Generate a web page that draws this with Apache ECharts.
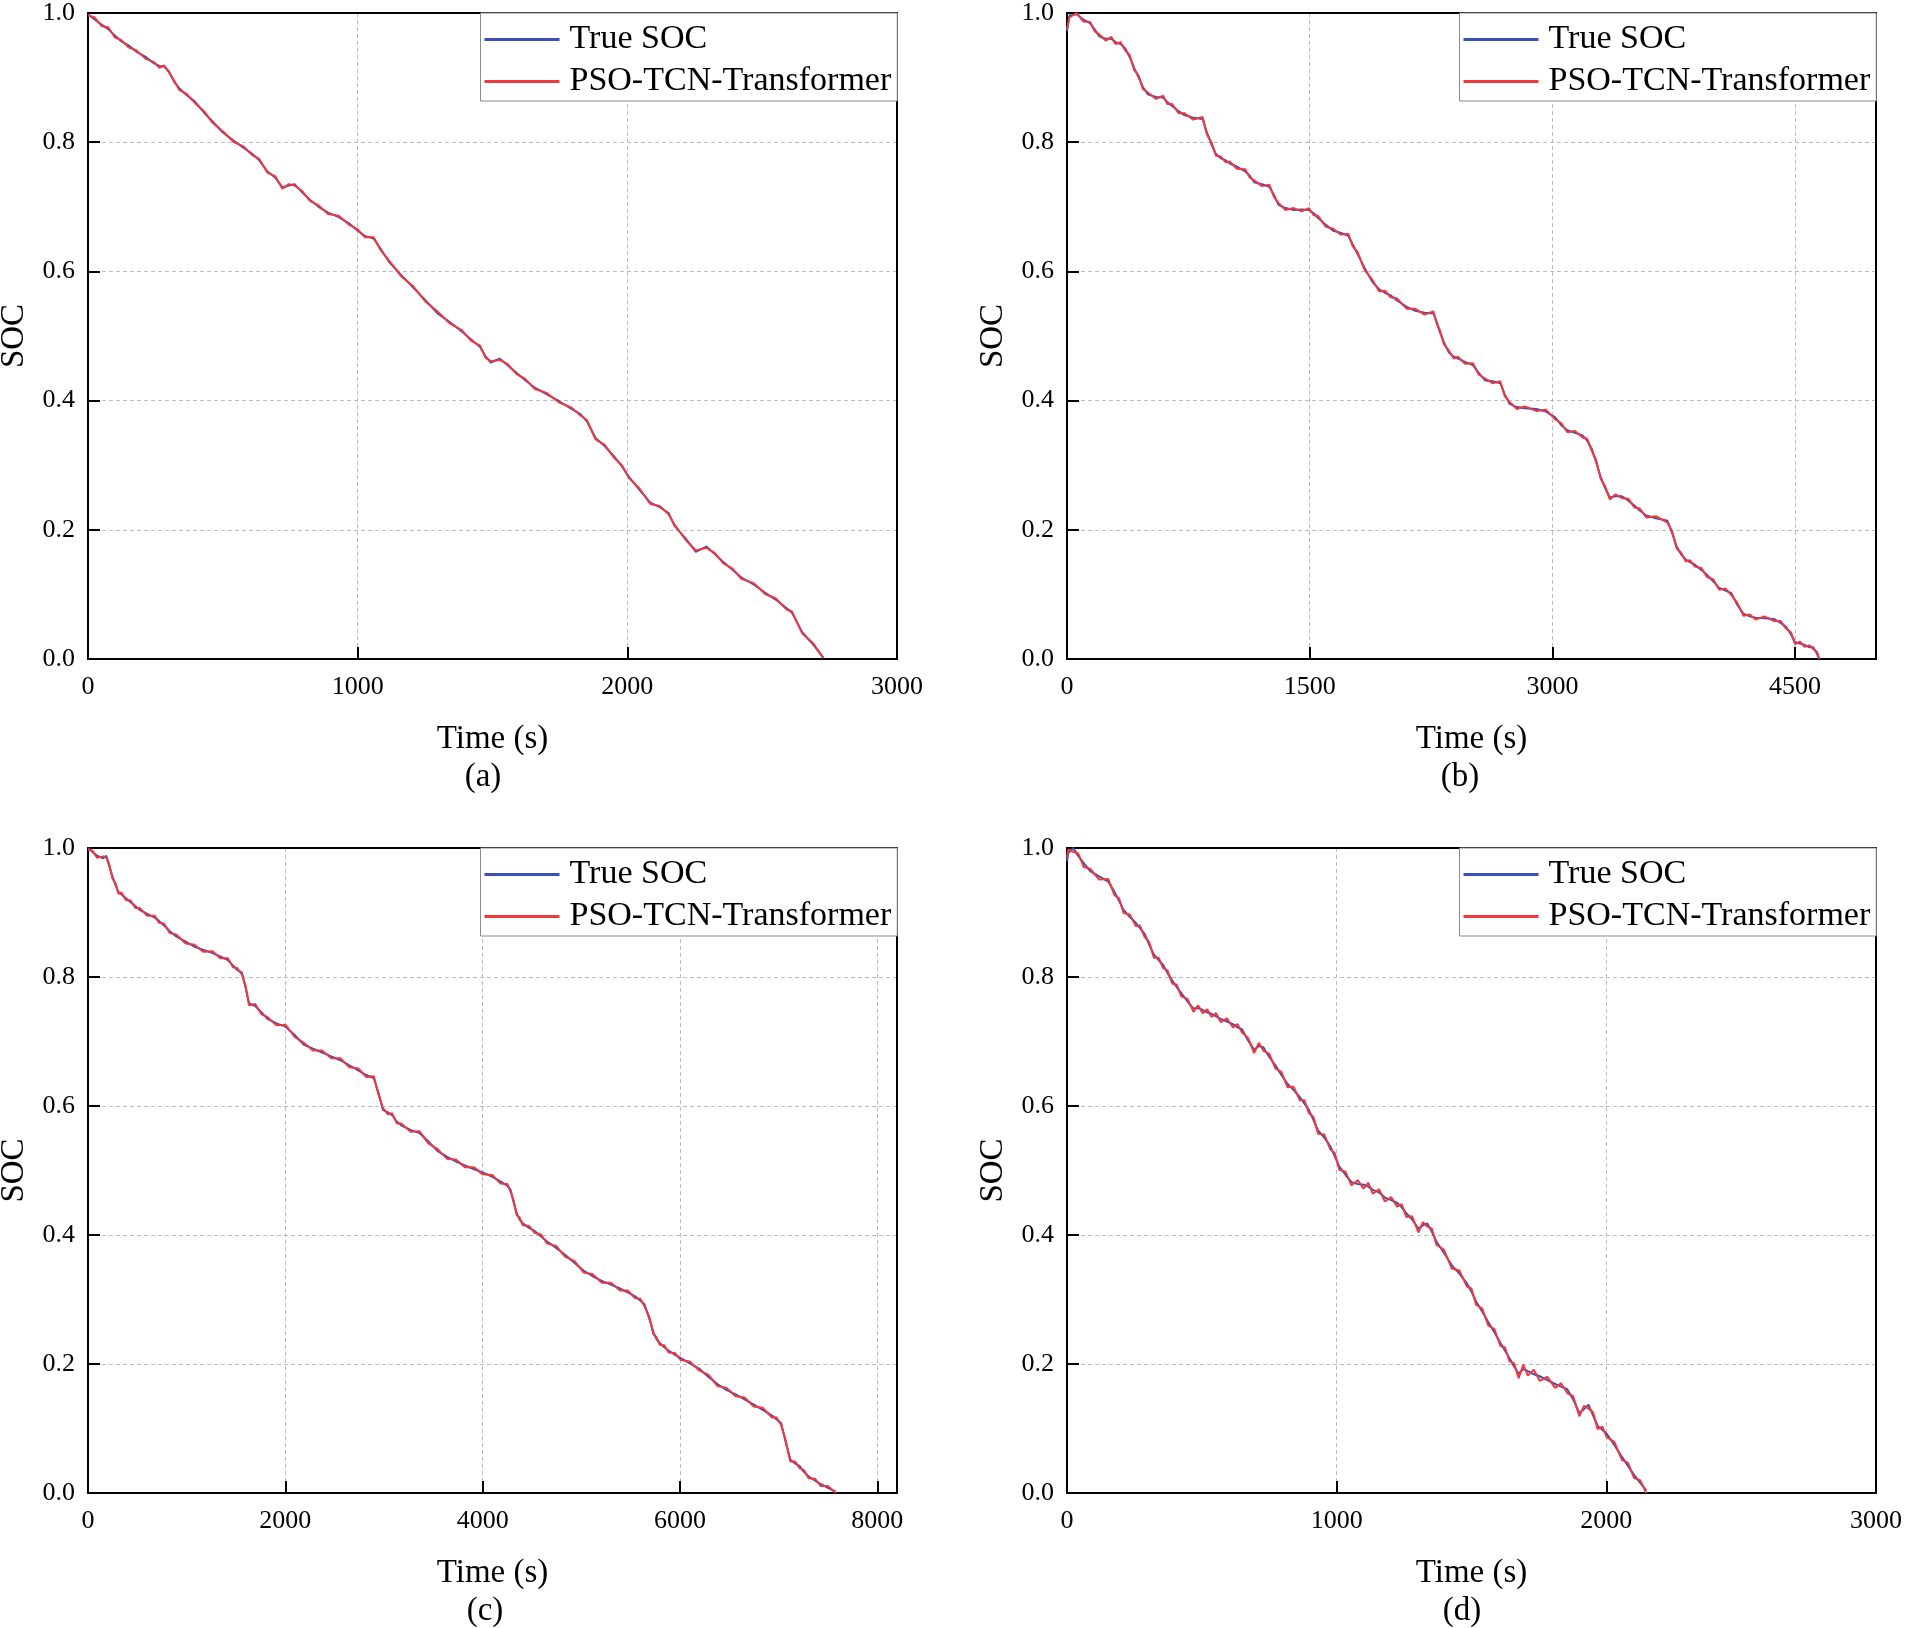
<!DOCTYPE html>
<html>
<head>
<meta charset="utf-8">
<script src="https://cdn.jsdelivr.net/npm/echarts@6/dist/echarts.min.js"></script>
<style>
html,body{margin:0;padding:0;background:#fff;}
#chart{width:1906px;height:1628px;}
</style>
</head>
<body>
<div id="chart"></div>
<script>
// ---------------- DATA ----------------
const seriesNames = ['True SOC', 'PSO-TCN-Transformer'];
const panelLabels = ['(a)', '(b)', '(c)', '(d)'];
const xMax = [3000, 5000, 8200, 3000];
const xInterval = [1000, 1500, 2000, 1000];
const yTicks = [0, 0.2, 0.4, 0.6, 0.8, 1.0];

// Panel (a)
const tA = [0,25,50,75,100,124,150,180,214,245,265,282,300,320,338,365,394,430,462,500,
541,575,609,635,665,695,721,745,766,795,823,855,890,930,969,1000,1026,1059,1085,1116,
1160,1206,1250,1296,1340,1386,1420,1454,1475,1494,1526,1555,1589,1620,1657,1700,1747,1790,1826,1850,
1882,1915,1950,1980,2006,2045,2085,2120,2153,2175,2215,2254,2293,2325,2356,2390,2423,2470,2513,2550,
2592,2610,2648,2690,2727];
const trueA = [0.998,0.990,0.982,0.975,0.965,0.956,0.950,0.940,0.932,0.922,0.918,0.917,0.910,0.893,0.884,0.873,0.864,0.846,0.832,0.815,
0.802,0.792,0.782,0.772,0.755,0.745,0.730,0.733,0.735,0.722,0.711,0.700,0.691,0.684,0.674,0.663,0.655,0.651,0.635,0.615,
0.595,0.575,0.556,0.535,0.522,0.507,0.495,0.483,0.468,0.459,0.465,0.455,0.443,0.432,0.420,0.410,0.399,0.388,0.379,0.368,
0.342,0.330,0.314,0.298,0.282,0.262,0.242,0.235,0.226,0.206,0.187,0.166,0.174,0.162,0.150,0.138,0.126,0.115,0.102,0.092,
0.078,0.072,0.042,0.022,0.002];
const predA = [0.996,0.993,0.980,0.978,0.962,0.958,0.947,0.942,0.929,0.924,0.915,0.919,0.908,0.895,0.881,0.875,0.862,0.848,0.830,0.817,
0.800,0.794,0.780,0.774,0.753,0.747,0.728,0.735,0.733,0.724,0.709,0.702,0.689,0.686,0.672,0.665,0.653,0.653,0.633,0.617,
0.593,0.577,0.554,0.538,0.520,0.509,0.493,0.485,0.466,0.461,0.463,0.457,0.441,0.434,0.418,0.412,0.397,0.390,0.377,0.370,
0.340,0.332,0.312,0.300,0.280,0.264,0.240,0.237,0.224,0.208,0.185,0.168,0.172,0.164,0.148,0.140,0.124,0.117,0.100,0.094,
0.076,0.074,0.040,0.024,0.001];

// Panel (b)
const tB = [0,15,60,100,143,170,199,240,274,300,331,360,387,415,443,470,500,550,594,620,
650,690,725,780,838,865,894,920,950,980,1007,1050,1101,1130,1157,1205,1251,1280,1307,1350,
1401,1450,1495,1525,1551,1600,1645,1690,1739,1765,1796,1840,1890,1930,1965,2000,2040,2100,2153,2210,
2265,2285,2303,2330,2359,2390,2416,2460,2509,2545,2585,2630,2678,2705,2735,2780,2829,2900,2960,3017,
3055,3092,3140,3186,3215,3242,3270,3298,3325,3355,3390,3430,3470,3505,3540,3580,3640,3711,3740,3768,
3795,3824,3850,3881,3920,3956,3995,4031,4070,4106,4140,4181,4220,4256,4310,4369,4410,4444,4475,4500,
4530,4557,4590,4613,4635,4651];
const trueB = [0.972,0.996,0.998,0.990,0.984,0.975,0.964,0.960,0.960,0.955,0.952,0.945,0.932,0.915,0.900,0.885,0.874,0.870,0.869,0.862,
0.856,0.848,0.842,0.838,0.836,0.815,0.796,0.782,0.775,0.772,0.767,0.762,0.755,0.748,0.738,0.735,0.731,0.718,0.703,0.698,
0.695,0.696,0.695,0.690,0.683,0.672,0.663,0.660,0.655,0.642,0.627,0.605,0.583,0.572,0.567,0.563,0.555,0.545,0.539,0.536,
0.535,0.522,0.507,0.490,0.475,0.468,0.465,0.460,0.455,0.443,0.431,0.430,0.427,0.410,0.395,0.390,0.388,0.387,0.383,0.374,
0.362,0.354,0.350,0.346,0.338,0.326,0.305,0.282,0.265,0.250,0.252,0.252,0.245,0.238,0.230,0.222,0.218,0.214,0.195,0.174,
0.162,0.154,0.150,0.146,0.138,0.130,0.120,0.110,0.106,0.102,0.085,0.070,0.066,0.064,0.063,0.062,0.056,0.050,0.038,0.026,
0.024,0.022,0.018,0.018,0.008,0.000];
const predB = [0.975,0.993,1.000,0.987,0.986,0.972,0.967,0.957,0.963,0.952,0.955,0.942,0.935,0.912,0.903,0.882,0.877,0.867,0.872,0.859,
0.859,0.845,0.845,0.835,0.839,0.812,0.799,0.779,0.778,0.769,0.770,0.759,0.758,0.745,0.741,0.732,0.734,0.715,0.706,0.695,
0.698,0.693,0.698,0.687,0.686,0.669,0.666,0.657,0.658,0.639,0.630,0.602,0.586,0.569,0.570,0.560,0.558,0.542,0.542,0.533,
0.538,0.519,0.510,0.487,0.478,0.465,0.468,0.457,0.458,0.440,0.434,0.427,0.430,0.407,0.398,0.387,0.391,0.384,0.386,0.371,
0.365,0.351,0.353,0.343,0.341,0.323,0.308,0.279,0.268,0.247,0.255,0.249,0.248,0.235,0.233,0.219,0.221,0.211,0.198,0.171,
0.165,0.151,0.153,0.143,0.141,0.127,0.123,0.107,0.109,0.099,0.088,0.067,0.069,0.061,0.066,0.059,0.059,0.047,0.041,0.023,
0.027,0.019,0.021,0.015,0.011,0.000];

// Panel (c)
const tC = [0,45,92,154,185,215,247,280,308,339,385,431,480,524,600,678,720,770,830,894,
990,1079,1170,1263,1340,1418,1470,1510,1559,1595,1633,1695,1760,1818,1910,2003,2095,2188,2280,2373,
2465,2558,2650,2743,2820,2897,2945,2989,3040,3082,3130,3174,3270,3359,3450,3544,3640,3729,3820,3913,
4000,4098,4180,4252,4283,4315,4345,4375,4407,4470,4530,4590,4653,4745,4838,4930,5023,5115,5208,5300,
5393,5470,5547,5600,5639,5690,5731,5765,5793,5840,5885,5950,6009,6100,6194,6290,6379,6470,6564,6655,
6748,6840,6933,6980,7026,7070,7118,7165,7211,7260,7303,7370,7426,7500,7580];
const trueC = [1.000,0.994,0.988,0.984,0.988,0.972,0.956,0.942,0.932,0.928,0.922,0.916,0.910,0.904,0.898,0.892,0.887,0.880,0.871,0.863,
0.855,0.847,0.842,0.837,0.832,0.826,0.818,0.811,0.807,0.785,0.759,0.755,0.745,0.735,0.728,0.723,0.710,0.695,0.689,0.683,
0.677,0.671,0.663,0.655,0.648,0.643,0.620,0.594,0.590,0.586,0.576,0.570,0.563,0.558,0.545,0.530,0.521,0.514,0.508,0.502,
0.497,0.490,0.483,0.476,0.470,0.450,0.434,0.424,0.418,0.411,0.406,0.398,0.390,0.380,0.369,0.357,0.345,0.336,0.329,0.323,
0.317,0.311,0.305,0.298,0.293,0.270,0.249,0.238,0.233,0.226,0.221,0.214,0.209,0.201,0.193,0.180,0.169,0.160,0.153,0.145,
0.137,0.129,0.120,0.114,0.108,0.080,0.052,0.046,0.042,0.032,0.026,0.019,0.014,0.008,0.002];
const predC = [0.997,0.996,0.985,0.987,0.985,0.975,0.953,0.945,0.929,0.931,0.919,0.919,0.907,0.907,0.895,0.895,0.884,0.883,0.868,0.866,
0.852,0.850,0.839,0.840,0.829,0.829,0.815,0.814,0.804,0.788,0.756,0.758,0.742,0.738,0.725,0.726,0.707,0.698,0.686,0.686,
0.674,0.674,0.660,0.658,0.645,0.646,0.617,0.597,0.587,0.589,0.573,0.573,0.560,0.561,0.542,0.533,0.518,0.517,0.505,0.505,
0.494,0.493,0.480,0.479,0.467,0.453,0.431,0.427,0.415,0.414,0.403,0.401,0.387,0.383,0.366,0.360,0.342,0.339,0.326,0.326,
0.314,0.314,0.302,0.301,0.290,0.273,0.246,0.241,0.230,0.229,0.218,0.217,0.206,0.204,0.190,0.183,0.166,0.163,0.150,0.148,
0.134,0.132,0.117,0.117,0.105,0.083,0.049,0.049,0.039,0.035,0.023,0.022,0.011,0.011,0.000];

// Panel (d)
const tD = [0,5,23,41,63,86,119,153,176,193,210,233,255,270,288,305,322,340,356,373,
390,407,424,447,469,486,503,520,536,553,570,593,615,632,649,671,694,711,728,750,
773,795,818,840,863,880,897,914,931,954,976,993,1010,1033,1055,1078,1100,1117,1134,1157,
1179,1202,1224,1241,1258,1280,1303,1320,1336,1353,1370,1398,1427,1455,1483,1500,1517,1540,1562,1585,
1607,1624,1641,1658,1675,1692,1709,1731,1753,1781,1810,1832,1855,1877,1900,1917,1934,1951,1968,1985,
2001,2030,2058,2080,2103,2125,2148];
const trueD = [0.980,0.992,1.000,0.988,0.976,0.964,0.956,0.948,0.932,0.918,0.904,0.893,0.884,0.876,0.867,0.850,0.835,0.826,0.819,0.806,
0.795,0.784,0.775,0.762,0.751,0.752,0.749,0.745,0.743,0.739,0.735,0.731,0.727,0.722,0.719,0.702,0.687,0.693,0.691,0.676,
0.663,0.648,0.634,0.625,0.614,0.604,0.594,0.578,0.562,0.551,0.538,0.522,0.506,0.493,0.482,0.479,0.478,0.475,0.470,0.466,
0.458,0.454,0.450,0.443,0.434,0.424,0.410,0.415,0.418,0.405,0.390,0.372,0.353,0.340,0.325,0.312,0.297,0.281,0.265,0.249,
0.233,0.221,0.209,0.196,0.185,0.192,0.189,0.184,0.181,0.175,0.169,0.165,0.161,0.145,0.124,0.130,0.137,0.120,0.104,0.098,
0.092,0.074,0.056,0.042,0.028,0.016,0.004];
const predD = [0.985,0.998,0.994,0.992,0.970,0.968,0.951,0.952,0.927,0.922,0.899,0.897,0.879,0.880,0.862,0.854,0.830,0.830,0.814,0.810,
0.790,0.788,0.770,0.766,0.746,0.756,0.744,0.750,0.738,0.744,0.730,0.736,0.722,0.727,0.714,0.706,0.682,0.698,0.686,0.681,
0.658,0.653,0.629,0.630,0.609,0.609,0.589,0.583,0.557,0.556,0.533,0.527,0.501,0.498,0.477,0.485,0.472,0.481,0.464,0.471,
0.452,0.459,0.444,0.448,0.428,0.429,0.404,0.420,0.413,0.410,0.385,0.377,0.348,0.345,0.320,0.317,0.292,0.286,0.260,0.254,
0.228,0.226,0.204,0.201,0.178,0.199,0.182,0.191,0.174,0.180,0.163,0.170,0.155,0.150,0.119,0.135,0.131,0.125,0.099,0.103,
0.087,0.079,0.051,0.047,0.023,0.020,0.000];

// ---------------- LAYOUT / STYLE ----------------
const FONT = 'Liberation Serif';
const BLUE = '#3b4fb8';
const RED = '#f0393c';
const panels = [
  {t: tA, tr: trueA, pr: predA},
  {t: tB, tr: trueB, pr: predB},
  {t: tC, tr: trueC, pr: predC},
  {t: tD, tr: trueD, pr: predD}
];
const gridPos = [
  {left: 88, top: 13, width: 809, height: 646},
  {left: 1067, top: 13, width: 809, height: 646},
  {left: 88, top: 848, width: 809, height: 645},
  {left: 1067, top: 848, width: 809, height: 645}
];
const legendPos = [
  {left: 480.5, top: 13}, {left: 1459.5, top: 13},
  {left: 480.5, top: 848}, {left: 1459.5, top: 848}
];
const labelPos = [[483, 777], [1460, 777], [485, 1611], [1462, 1611]];

const zip = (t, v) => t.map((x, i) => [x, v[i]]);
const axisLineStyle = {color: '#000', width: 2};
const splitStyle = {color: '#bdbdbd', width: 1, type: [4, 3]};

const xAxes = [];
const yAxes = [];
gridPos.forEach((g, i) => {
  xAxes.push({
    type: 'value', gridIndex: i, position: 'bottom', min: 0, max: xMax[i], interval: xInterval[i],
    name: 'Time (s)', nameLocation: 'middle', nameGap: 64,
    nameTextStyle: {fontFamily: FONT, fontSize: 33, color: '#000'},
    axisLine: {show: true, onZero: false, lineStyle: axisLineStyle},
    axisTick: {show: true, inside: true, length: 12, lineStyle: axisLineStyle},
    axisLabel: {
      fontFamily: FONT, fontSize: 26, color: '#000', margin: 15,
      formatter: v => ((v % xInterval[i] === 0) ? String(v) : '')
    },
    splitLine: {show: true, lineStyle: splitStyle}
  });
  yAxes.push({
    type: 'value', gridIndex: i, position: 'left', min: yTicks[0], max: yTicks[yTicks.length - 1], interval: 0.2,
    name: 'SOC', nameLocation: 'middle', nameGap: 57, nameRotate: 90,
    nameTextStyle: {fontFamily: FONT, fontSize: 33, color: '#000'},
    axisLine: {show: true, onZero: false, lineStyle: axisLineStyle},
    axisTick: {show: true, inside: true, length: 12, lineStyle: axisLineStyle},
    axisLabel: {fontFamily: FONT, fontSize: 26, color: '#000', margin: 13,
      formatter: v => v.toFixed(1)},
    splitLine: {show: true, lineStyle: splitStyle}
  });
});
// frame: top and right edges
gridPos.forEach((g, i) => {
  xAxes.push({
    type: 'value', gridIndex: i, position: 'top', min: 0, max: xMax[i], interval: xInterval[i],
    axisLine: {show: true, onZero: false, lineStyle: axisLineStyle},
    axisTick: {show: false}, axisLabel: {show: false}, splitLine: {show: false}
  });
  yAxes.push({
    type: 'value', gridIndex: i, position: 'right', min: 0, max: 1, interval: 0.2,
    axisLine: {show: true, onZero: false, lineStyle: axisLineStyle},
    axisTick: {show: false}, axisLabel: {show: false}, splitLine: {show: false}
  });
});

const option = {
  animation: false,
  backgroundColor: '#fff',
  textStyle: {fontFamily: FONT, color: '#000'},
  grid: gridPos.map(g => Object.assign({
    show: false, containLabel: false, outerBoundsMode: 'none'
  }, g)),
  xAxis: xAxes,
  yAxis: yAxes,
  legend: legendPos.map(p => ({
    left: p.left, top: p.top, orient: 'vertical', align: 'left',
    data: seriesNames, selectedMode: false,
    icon: 'rect', itemWidth: 75, itemHeight: 3, itemGap: 8,
    padding: [9.5, 6, 2.5, 4],
    backgroundColor: '#fff', borderColor: '#8a8a8a', borderWidth: 1, borderRadius: 0,
    textStyle: {fontFamily: FONT, fontSize: 34, color: '#000', lineHeight: 34, padding: [0, 0, 0, 5]}
  })),
  graphic: labelPos.map((p, i) => ({
    type: 'text', x: p[0], y: p[1],
    style: {text: panelLabels[i], font: '33px "Liberation Serif"', fill: '#000',
      align: 'center', verticalAlign: 'middle'}
  })),
  series: []
};

panels.forEach((p, i) => {
  option.series.push({
    name: seriesNames[0], type: 'line', xAxisIndex: i, yAxisIndex: i,
    data: zip(p.t, p.tr), showSymbol: false, symbol: 'none',
    lineStyle: {color: BLUE, width: 2}, itemStyle: {color: BLUE}, z: 2
  });
  option.series.push({
    name: seriesNames[1], type: 'line', xAxisIndex: i, yAxisIndex: i,
    data: zip(p.t, p.pr), showSymbol: false, symbol: 'none',
    lineStyle: {color: RED, width: 2}, itemStyle: {color: RED}, z: 3
  });
});

const chart = echarts.init(document.getElementById('chart'), null, {renderer: 'canvas'});
chart.setOption(option);
</script>
</body>
</html>
